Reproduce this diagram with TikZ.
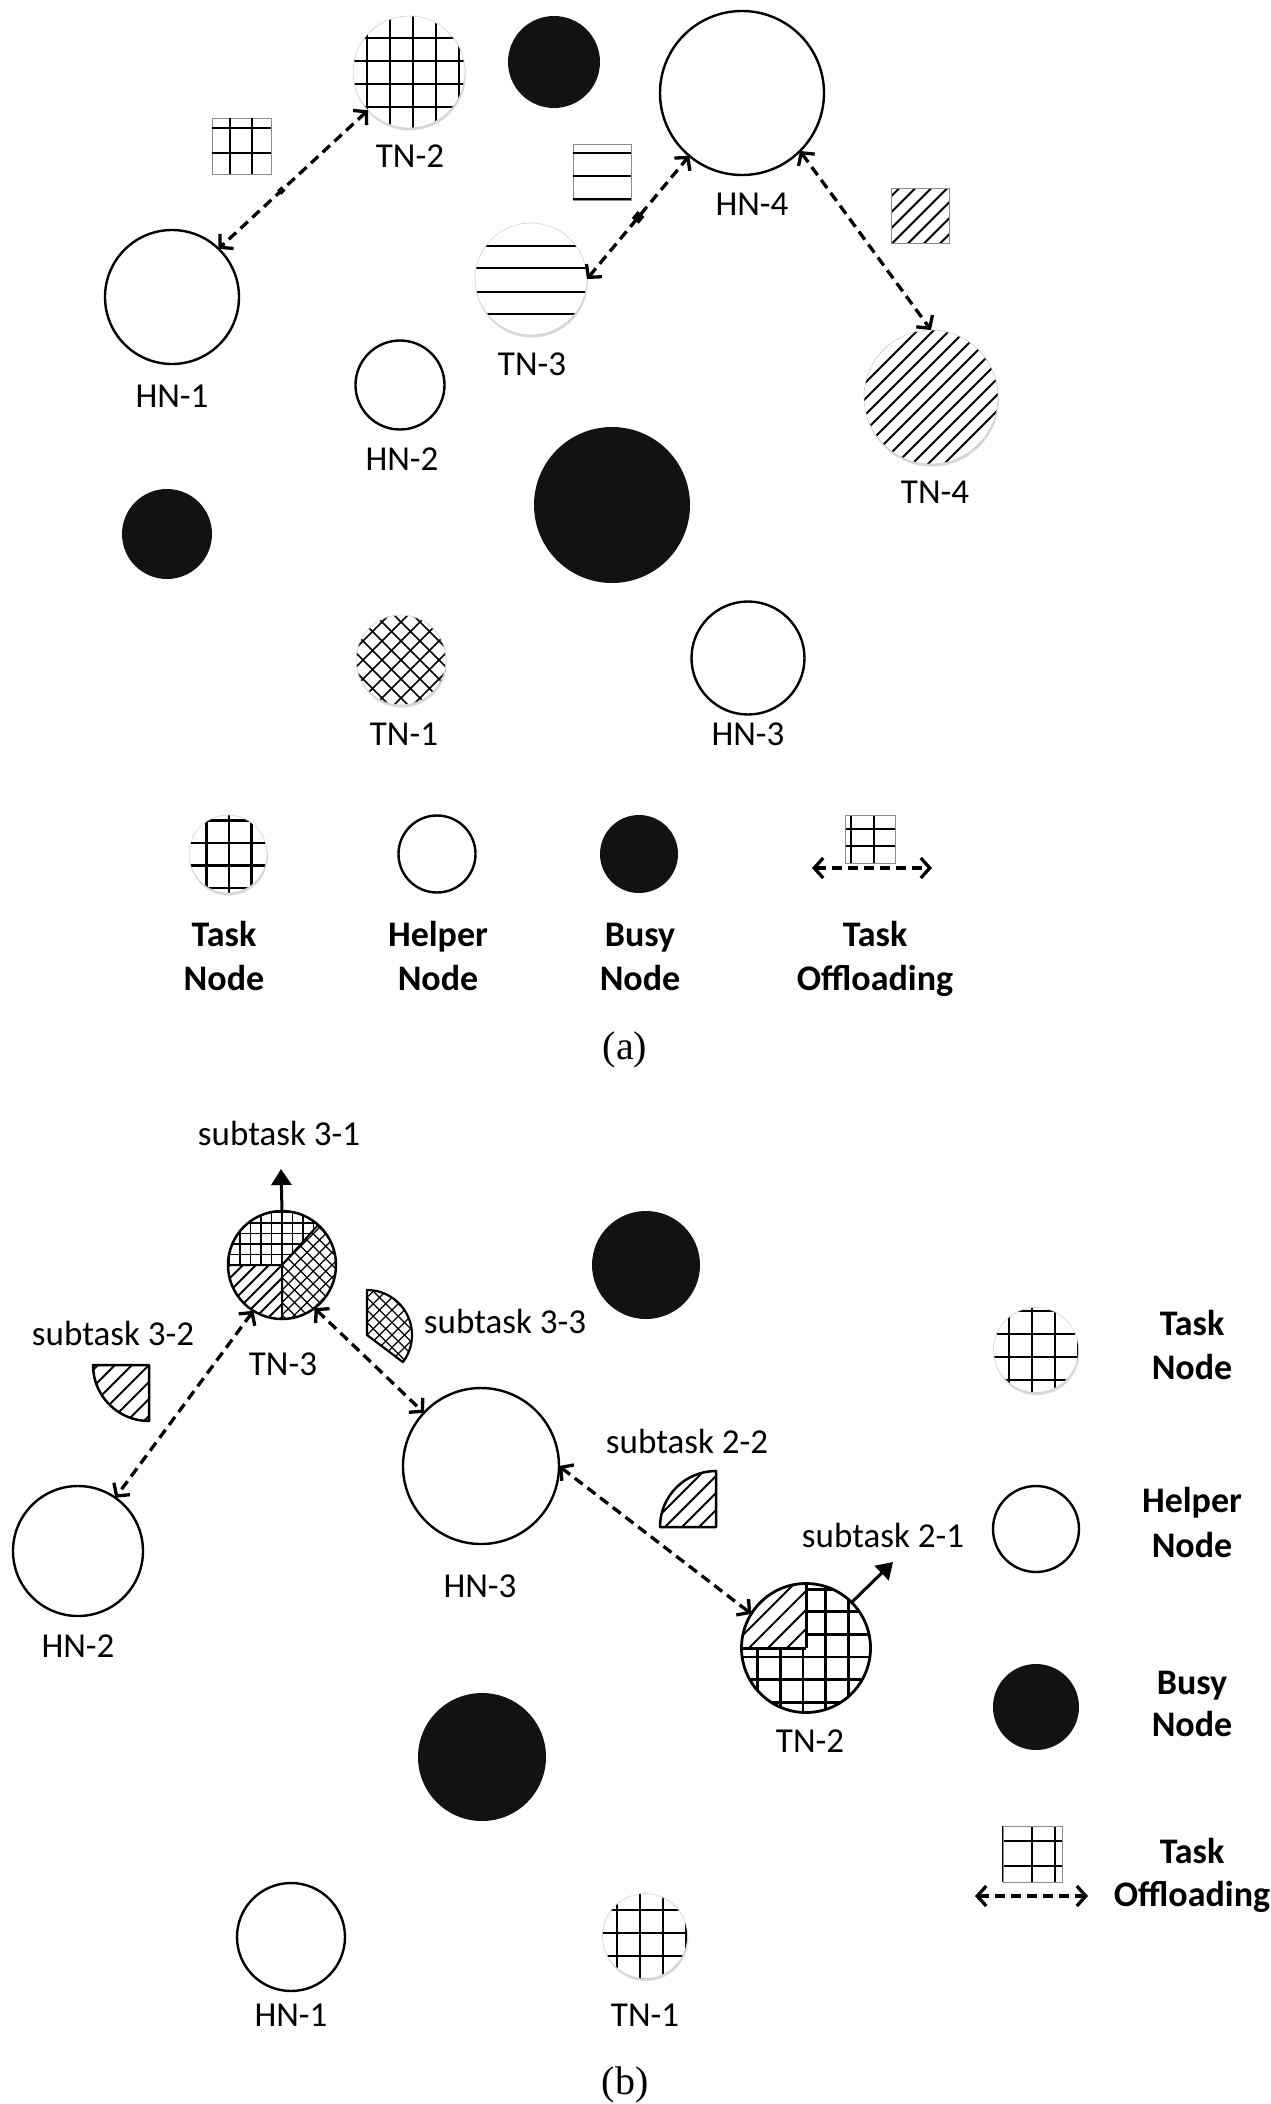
\documentclass[tikz,border=0pt]{standalone}
\usepackage{fontspec}
\setmainfont{Carlito}
\newfontfamily\capfont{Liberation Serif}
\usetikzlibrary{arrows.meta,shadows}

% lattices centred on the origin
\newcommand{\GridLat}[4]{%
  \foreach \k in {-12,...,12}{%
    \draw[black, line width=#4] ({#2+\k*#1},-260) -- ({#2+\k*#1},260);
    \draw[black, line width=#4] (-260,{#3+\k*#1}) -- (260,{#3+\k*#1});}}
\newcommand{\HLat}[2]{%
  \foreach \v in {#1}{%
    \draw[black, line width=#2] (-260,\v) -- (260,\v);}}
\newcommand{\HatchLat}[3]{%
  \foreach \k in {-30,...,30}{%
    \draw[black, line width=#3] ({#2+\k*#1-260},-260) -- ++(520,520);}}
\newcommand{\XLat}[3]{%
  \foreach \k in {-30,...,30}{%
    \draw[black, line width=#3] ({#2+\k*#1-260},-260) -- ++(520,520);
    \draw[black, line width=#3] ({#2+\k*#1+260},-260) -- ++(-520,520);}}

\tikzset{
  helper/.style={circle, inner sep=0pt, outer sep=0pt, draw=black, line width=2.4pt, fill=white, minimum size=#1},
  busy/.style={circle, inner sep=0pt, outer sep=0pt, fill=black!93, minimum size=#1},
  task/.style={circle, inner sep=0pt, outer sep=0pt, fill=white, draw=black!18, line width=0.6pt, minimum size=#1,
    drop shadow={opacity=0.3, shadow xshift=0.8pt, shadow yshift=-2.5pt}},
  pie/.style={circle, inner sep=0pt, outer sep=0pt, fill=white, minimum size=#1},
  gridfill/.style n args={4}{path picture={\begin{scope}[shift={(path picture bounding box.center)}]\GridLat{#1}{#2}{#3}{#4}\end{scope}}},
  hfill/.style n args={2}{path picture={\begin{scope}[shift={(path picture bounding box.center)}]\HLat{#1}{#2}\end{scope}}},
  hatchfill/.style n args={3}{path picture={\begin{scope}[shift={(path picture bounding box.center)}]\HatchLat{#1}{#2}{#3}\end{scope}}},
  xfill/.style n args={3}{path picture={\begin{scope}[shift={(path picture bounding box.center)}]\XLat{#1}{#2}{#3}\end{scope}}},
  lbl/.style={anchor=base, inner sep=0pt, font=\fontsize{35}{42}\selectfont},
  leg/.style={anchor=base, inner sep=0pt, font=\fontsize{36}{43}\selectfont\bfseries},
  offl/.style={line width=3.3pt, dash pattern=on 10pt off 6pt,
    {Straight Barb[length=9pt,width=20pt]}-{Straight Barb[length=9pt,width=20pt]}},
  subarr/.style={line width=3pt, -{Triangle[length=16pt,width=20pt]}},
  iconbox/.style={draw=black!45, line width=0.8pt},
  icline/.style={line width=2.8pt},
}

\begin{document}
\begin{tikzpicture}[x=1pt,y=1pt]
\useasboundingbox (0,0) rectangle (1271,-2104);
\fill[white] (0,0) rectangle (1271,-2104);

% ================= (a) =================
\node[task=112pt, gridfill={23}{4}{11}{2.8pt}] (tn2a) at (409,-72) {};
\node[busy=92pt] (busy1a) at (554,-62) {};
\node[helper=164pt] (hn4a) at (742,-93) {};
\node[helper=134pt] (hn1a) at (172,-297) {};
\node[task=112pt, hfill={33,11,-13,-35}{2.8pt}] (tn3a) at (531,-279) {};
\node[helper=89pt] (hn2a) at (400,-385) {};
\node[task=134pt, hatchfill={16}{0}{2pt}] (tn4a) at (931,-397) {};
\node[busy=90pt] (busy2a) at (167,-534) {};
\node[busy=156pt] (busy3a) at (612,-505) {};
\node[task=90pt, xfill={19}{0}{1.6pt}] (tn1a) at (401,-660) {};
\node[helper=113pt] (hn3a) at (748,-658) {};

\node[lbl] (ltn2a) at (410,-167) {TN-2};
\node[lbl] (lhn4a) at (752,-215) {HN-4};
\node[lbl] (ltn3a) at (532,-375) {TN-3};
\node[lbl] (lhn1a) at (172,-407) {HN-1};
\node[lbl] (lhn2a) at (402,-470) {HN-2};
\node[lbl] (ltn4a) at (935,-503) {TN-4};
\node[lbl] (ltn1a) at (404,-745) {TN-1};
\node[lbl] (lhn3a) at (748,-745) {HN-3};

% task icons (a)
\draw[iconbox] (212,-118) rectangle (271,-174);
\draw[icline] (230,-118) -- (230,-174) (252,-118) -- (252,-174)
  (212,-128) -- (271,-128) (212,-153) -- (271,-153);
\draw[iconbox] (573,-144) rectangle (631,-200);
\draw[icline] (573,-153) -- (631,-153) (573,-176) -- (631,-176) (573,-199) -- (631,-199);
\begin{scope}
  \clip (891,-188) rectangle (949,-243);
  \begin{scope}[shift={(920,-215.5)}]\HatchLat{16}{0}{2pt}\end{scope}
\end{scope}
\draw[iconbox] (891,-188) rectangle (949,-243);

% offloading links (a)
\draw[offl] (tn2a.223) -- node[pos=0.58, fill, inner sep=0pt, minimum size=6pt, rotate=45] (m1) {} (hn1a.46);
\draw[offl] (tn3a.east) -- node[pos=0.5, fill, inner sep=0pt, minimum size=9pt, rotate=-40] (m2) {} (hn4a.230);
\draw[offl] (hn4a.-45) -- (tn4a.north);

% legend (a)
\node[task=78pt, gridfill={22.5}{1}{11}{2.6pt}] (lgtask) at (228,-854) {};
\node[helper=77pt] (lghelp) at (437,-854) {};
\node[busy=78pt] (lgbusy) at (639,-854) {};
\draw[icline] (851,-815) -- (851,-863) (874,-815) -- (874,-863)
  (845,-829) -- (895,-829) (845,-846) -- (895,-846);
\draw[iconbox] (845,-815) rectangle (895,-863);
\coordinate (la1) at (812,-868);
\coordinate (la2) at (932,-868);
\draw[offl] (la1) -- (la2);
\node[leg] (lt1) at (224,-946) {Task};
\node[leg] (lt2) at (224,-990) {Node};
\node[leg] (lh1) at (438,-946) {Helper};
\node[leg] (lh2) at (438,-990) {Node};
\node[leg] (lb1) at (640,-946) {Busy};
\node[leg] (lb2) at (640,-990) {Node};
\node[leg] (lo1) at (875,-946) {Task};
\node[leg] (lo2) at (875,-990) {Offloading};

\node[anchor=base, inner sep=0pt, font=\capfont\fontsize{40}{48}\selectfont] (capa) at (625,-1059) {(a)};

% ================= (b) =================
\node[busy=108pt] (busy1b) at (646,-1265) {};
\node[pie=108pt] (tn3b) at (282,-1265) {};
\begin{scope}
  \clip (tn3b.center) -- ++(48:54) arc[start angle=48, end angle=180, radius=54] -- cycle;
  \begin{scope}[shift={(tn3b.center)}]\GridLat{10.5}{0}{0}{1.8pt}\end{scope}
\end{scope}
\begin{scope}
  \clip (tn3b.center) -- ++(180:54) arc[start angle=180, end angle=270, radius=54] -- cycle;
  \begin{scope}[shift={(tn3b.center)}]\HatchLat{13}{0}{1.8pt}\end{scope}
\end{scope}
\begin{scope}
  \clip (tn3b.center) -- ++(-90:54) arc[start angle=-90, end angle=48, radius=54] -- cycle;
  \begin{scope}[shift={(tn3b.center)}]\XLat{12.5}{0}{1.2pt}\end{scope}
\end{scope}
\draw[line width=2pt] (tn3b.center) -- ++(48:54) (tn3b.center) -- ++(180:54) (tn3b.center) -- ++(270:54);
\draw[line width=2.5pt] (tn3b.center) circle[radius=54];

\node[helper=130pt] (hn2b) at (78,-1551) {};
\node[helper=156pt] (hn3b) at (481,-1466) {};

\node[pie=129pt] (tn2b) at (806,-1648) {};
\begin{scope}
  \clip (tn2b.center) circle[radius=64.5];
  \begin{scope}[shift={(tn2b.center)}]\GridLat{22.6}{-3}{-9}{2.8pt}\end{scope}
\end{scope}
\fill[white] (tn2b.center) -- ++(90:64.5) arc[start angle=90, end angle=180, radius=64.5] -- cycle;
\begin{scope}
  \clip (tn2b.center) -- ++(90:64.5) arc[start angle=90, end angle=180, radius=64.5] -- cycle;
  \begin{scope}[shift={(tn2b.center)}]\HatchLat{19}{0}{2pt}\end{scope}
\end{scope}
\draw[line width=3pt] (tn2b.center) -- ++(90:64.5) (tn2b.center) -- ++(180:64.5);
\draw[line width=2.8pt] (tn2b.center) circle[radius=64.5];

\node[busy=128pt] (busy2b) at (482,-1757) {};
\node[helper=108pt] (hn1b) at (291,-1937) {};
\node[task=85pt, gridfill={23}{-5}{3}{2.8pt}] (tn1b) at (645,-1936) {};

% subtask pieces
\begin{scope}
  \clip (149,-1365) -- ++(180:56) arc[start angle=180, end angle=270, radius=56] -- cycle;
  \begin{scope}[shift={(149,-1365)}]\HatchLat{17}{0}{2pt}\end{scope}
\end{scope}
\draw[line width=2.5pt, line join=round] (149,-1365) -- ++(180:56) arc[start angle=180, end angle=270, radius=56] -- cycle;

\begin{scope}
  \clip (716,-1527) -- ++(90:56) arc[start angle=90, end angle=180, radius=56] -- cycle;
  \begin{scope}[shift={(716,-1527)}]\HatchLat{17}{0}{2pt}\end{scope}
\end{scope}
\draw[line width=2.5pt, line join=round] (716,-1527) -- ++(90:56) arc[start angle=90, end angle=180, radius=56] -- cycle;

\begin{scope}
  \clip (367,-1335) -- ++(-37:45) arc[start angle=-37, end angle=90, radius=45] -- cycle;
  \begin{scope}[shift={(367,-1335)}]\XLat{12.5}{0}{1.2pt}\end{scope}
\end{scope}
\draw[line width=2.2pt, line join=round] (367,-1335) -- ++(-37:45) arc[start angle=-37, end angle=90, radius=45] -- cycle;

% links (b)
\draw[offl] (tn3b.238) -- (hn2b.55);
\draw[offl] (tn3b.307) -- (hn3b.137);
\draw[offl] (hn3b.east) -- (tn2b.148);
\coordinate (s31) at (281,-1169);
\draw[subarr] (tn3b.north) -- (s31);
\coordinate (s21) at (893,-1562);
\draw[subarr] (tn2b.45) -- (s21);

% labels (b)
\node[lbl] (ls31) at (279,-1145) {subtask 3-1};
\node[lbl] (ltn3b) at (283,-1375) {TN-3};
\node[lbl] (ls33) at (505,-1333) {subtask 3-3};
\node[lbl] (ls32) at (113,-1345) {subtask 3-2};
\node[lbl] (lhn2b) at (78,-1657) {HN-2};
\node[lbl] (lhn3b) at (480,-1597) {HN-3};
\node[lbl] (ls22) at (687,-1453) {subtask 2-2};
\node[lbl] (ls21) at (883,-1547) {subtask 2-1};
\node[lbl] (ltn2b) at (810,-1752) {TN-2};
\node[lbl] (lhn1b) at (291,-2026) {HN-1};
\node[lbl] (ltn1b) at (645,-2026) {TN-1};

% legend (b)
\node[task=85pt, gridfill={23}{-4}{-7}{2.6pt}] (lgtaskb) at (1036,-1350) {};
\node[helper=86pt] (lghelpb) at (1036,-1529) {};
\node[busy=86pt] (lgbusyb) at (1036,-1707) {};
\draw[icline] (1003,-1826) -- (1003,-1882) (1032,-1826) -- (1032,-1882) (1055,-1826) -- (1055,-1882)
  (1003,-1841) -- (1062,-1841) (1003,-1866) -- (1062,-1866);
\draw[iconbox] (1003,-1826) rectangle (1062,-1882);
\coordinate (lb1c) at (975,-1896);
\coordinate (lb2c) at (1088,-1896);
\draw[offl] (lb1c) -- (lb2c);
\node[leg] (lbt1) at (1192,-1335) {Task};
\node[leg] (lbt2) at (1192,-1379) {Node};
\node[leg] (lbh1) at (1192,-1512) {Helper};
\node[leg] (lbh2) at (1192,-1557) {Node};
\node[leg] (lbb1) at (1192,-1694) {Busy};
\node[leg] (lbb2) at (1192,-1736) {Node};
\node[leg] (lbo1) at (1192,-1863) {Task};
\node[leg] (lbo2) at (1192,-1906) {Offloading};

\node[anchor=base, inner sep=0pt, font=\capfont\fontsize{40}{48}\selectfont] (capb) at (625,-2094) {(b)};
\end{tikzpicture}
\end{document}
